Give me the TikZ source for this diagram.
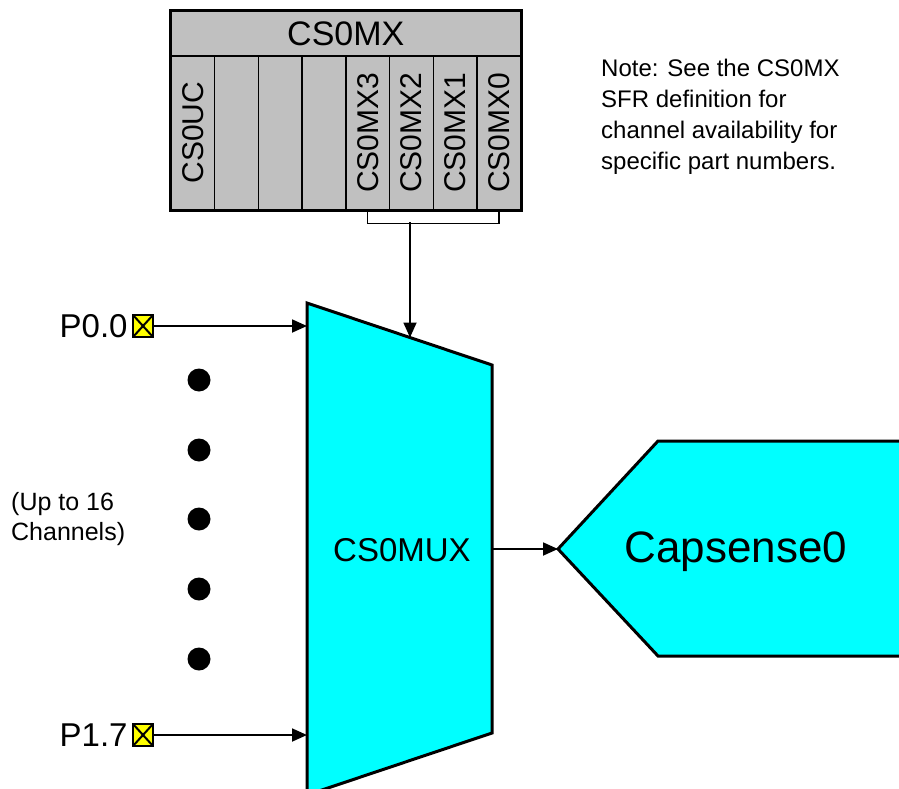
\documentclass[tikz,border=0pt]{standalone}
\usepackage{fontspec}
\setmainfont{Liberation Sans}
\usetikzlibrary{positioning,arrows.meta,calc}
\definecolor{muxfill}{HTML}{00FFFF}
\definecolor{regfill}{HTML}{C0C0C0}
\definecolor{pinfill}{HTML}{FFFF00}

\begin{document}
\begin{tikzpicture}[
  x=1pt, y=-1pt,
  >={Triangle[length=15pt,width=13pt]},
  every node/.style={inner sep=0pt},
  regtitle/.style={draw, line width=1.6pt, fill=regfill, anchor=north west,
                   minimum width=350pt, minimum height=45pt,
                   font=\fontsize{34}{36}\selectfont},
  regbit/.style  ={draw, line width=1.6pt, fill=regfill, anchor=north west,
                   minimum width=43.75pt, minimum height=154pt,
                   font=\fontsize{30}{36}\selectfont},
  shapebrd/.style={draw=black, line width=3pt, line join=miter, fill=muxfill},
  pin/.style     ={draw, line width=2.4pt, fill=pinfill,
                   minimum width=20pt, minimum height=22pt,
                   path picture={\draw[line width=2pt]
                     (path picture bounding box.north west) -- (path picture bounding box.south east)
                     (path picture bounding box.north east) -- (path picture bounding box.south west);}},
  pinlbl/.style  ={font=\fontsize{33}{36}\selectfont},
  chdot/.style   ={circle, fill=black, minimum size=23pt},
  sig/.style     ={->, line width=1.8pt},
]
\useasboundingbox (0,0) rectangle (899,789);
\clip (0,0) rectangle (899,789);

%% ── CS0MX register (top) ─────────────────────────────────
\node[regtitle] (mxtitle) at (170,10) {CS0MX};
\foreach \lbl [count=\i] in {CS0UC,{},{},{},CS0MX3,CS0MX2,CS0MX1,CS0MX0}
  \node[regbit] (bit\i) at ({170+(\i-1)*43.75},55) {\rotatebox{90}{\lbl}};
\draw[line width=2.6pt] (mxtitle.north west) rectangle (bit8.south east);

%% bracket over CS0MX3..CS0MX0
\draw[line width=1.6pt] (bit5.south) -- ++(0,13) -| (bit8.south);
\coordinate (brk) at (410,222);

%% ── Note ──────────────────────────────────────────────────
\node[anchor=north west, align=left, font=\fontsize{24}{31}\selectfont] (sfrnote) at (601,59)
  {Note: See the CS0MX\\SFR definition for\\channel availability for\\specific part numbers.};

%% ── CS0MUX trapezoid ──────────────────────────────────────
\coordinate (muxtl) at (307,303);
\coordinate (muxtr) at (492,365);
\coordinate (muxbr) at (492,733);
\coordinate (muxbl) at (307,795);
\coordinate (muxsel) at (410,337.5);
\coordinate (muxout) at (492,549);
\draw[shapebrd] (muxtl) -- (muxtr) -- (muxbr) -- (muxbl) -- cycle;
\node[anchor=base, font=\fontsize{33}{36}\selectfont] (mux) at (402,561) {CS0MUX};

\draw[sig] (brk) -- (muxsel);

%% ── Capsense0 ─────────────────────────────────────────────
\coordinate (cstip) at (558,549);
\draw[shapebrd] (910,441) -- (658,441) -- (cstip) -- (658,656) -- (910,656) -- cycle;
\node[anchor=base, font=\fontsize{44}{48}\selectfont] (capsense) at (736,562) {Capsense0};

\draw[sig] (muxout) -- (cstip);

%% ── Port pins ─────────────────────────────────────────────
\node[pin] (p00) at (143,326) {};
\node[pin] (p17) at (143,735) {};
\node[pinlbl, left=4pt of p00] (p00lbl) {P0.0};
\node[pinlbl, left=4pt of p17] (p17lbl) {P1.7};
\draw[sig] (p00.east) -- (p00.east -| muxtl);
\draw[sig] (p17.east) -- (p17.east -| muxtl);

\foreach \yy [count=\i] in {380,450,519,589,659}
  \node[chdot] (dot\i) at (199,\yy) {};

\node[anchor=west, align=left, font=\fontsize{25}{30}\selectfont] (chnote) at (11,519)
  {(Up to 16\\Channels)};

\end{tikzpicture}
\end{document}
